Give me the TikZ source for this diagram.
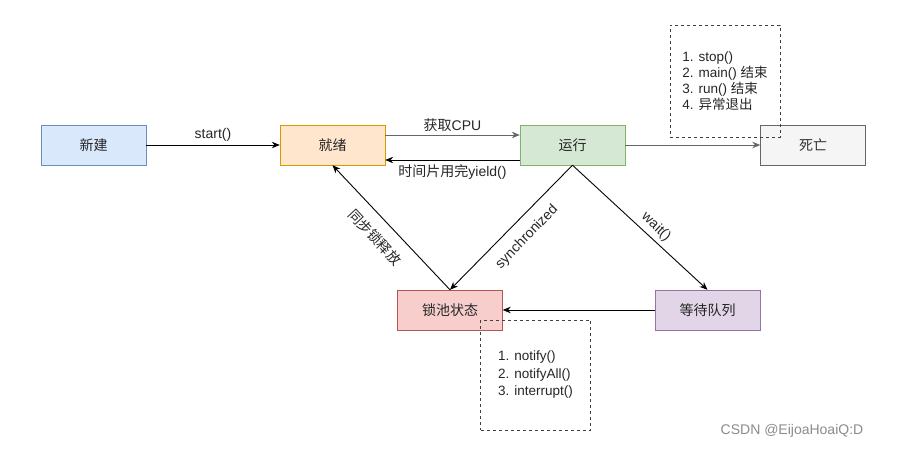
\documentclass[tikz,border=0pt]{standalone}
\usepackage{fontspec}
\setmainfont{Liberation Sans}
\newfontfamily\cjk{Noto Sans CJK SC}
\usetikzlibrary{arrows.meta}

\definecolor{newfill}{HTML}{DAE8FC}
\definecolor{newdraw}{HTML}{6C8EBF}
\definecolor{readyfill}{HTML}{FFE6CC}
\definecolor{readydraw}{HTML}{D79B00}
\definecolor{runfill}{HTML}{D5E8D4}
\definecolor{rundraw}{HTML}{82B366}
\definecolor{deadfill}{HTML}{F5F5F5}
\definecolor{deaddraw}{HTML}{666666}
\definecolor{lockfill}{HTML}{F8CECC}
\definecolor{lockdraw}{HTML}{B85450}
\definecolor{waitfill}{HTML}{E1D5E7}
\definecolor{waitdraw}{HTML}{9673A6}

\tikzset{
  state/.style={draw, minimum width=105pt, minimum height=40pt, inner sep=0pt,
    text=black!85, font=\fontsize{14}{16}\selectfont\cjk},
  note/.style={draw=black!75, dash pattern=on 3pt off 3pt, minimum width=110pt,
    align=left, text=black!85},
  lbl/.style={font=\fontsize{14}{16}\selectfont, text=black!85, inner sep=2pt},
  link/.style={->, line width=0.9pt},
}

\begin{document}
\begin{tikzpicture}[x=1pt, y=-1pt, >={Stealth[length=8pt, width=6.5pt]}]
  \useasboundingbox[fill=white] (0,0) rectangle (900,450);

  % states
  \node[state, fill=newfill, draw=newdraw] (xinjian) at (93.5,145) {新建};
  \node[state, fill=readyfill, draw=readydraw] (jiuxu) at (332.5,145) {就绪};
  \node[state, fill=runfill, draw=rundraw] (yunxing) at (572.5,145) {运行};
  \node[state, fill=deadfill, draw=deaddraw, text=black!80] (siwang) at (813,145) {死亡};
  \node[state, fill=lockfill, draw=lockdraw] (suochi) at (450,310) {锁池状态};
  \node[state, fill=waitfill, draw=waitdraw] (dengdai) at (707.5,310) {等待队列};

  % transitions
  \draw[link] (xinjian) -- node[lbl, above=1pt] {start()} (jiuxu);
  \draw[link, black!60] ([yshift=10pt]jiuxu.east) -- node[lbl, above=1pt] {{\cjk 获取}CPU} ([yshift=10pt]yunxing.west);
  \draw[link] ([yshift=-15pt]yunxing.west) -- node[lbl, below=2pt] {{\cjk 时间片用完}yield()} ([yshift=-15pt]jiuxu.east);
  \draw[link, black!60] (yunxing) -- (siwang);
  \draw[link] (yunxing.south) -- (suochi.north);
  \draw[link] (suochi.north) -- (jiuxu.south);
  \draw[link] (yunxing.south) -- (dengdai.north);
  \draw[link] (dengdai) -- (suochi);

  % sloped labels
  \node[lbl, rotate=45.7] (lsync) at (527,237) {synchronized};
  \node[lbl, rotate=-47] (lrelease) at (375,237) {\cjk 同步锁释放};
  \node[lbl, rotate=-43] (lwait) at (656,227) {wait()};

  % notes
  \node[note, minimum height=112pt, font=\fontsize{13.5}{16}\selectfont] (stopnote) at (725,81)
    {1. stop()\\2. main() {\cjk 结束}\\3. run() {\cjk 结束}\\4. {\cjk 异常退出}};
  \node[note, minimum height=110pt, font=\fontsize{13.5}{17.5}\selectfont] (notifynote) at (535.5,375)
    {1. notify()\\2. notifyAll()\\3. interrupt()};

  \node[text=black!45, font=\fontsize{14}{16}\selectfont] (mark) at (792,431) {CSDN @EijoaHoaiQ:D};
\end{tikzpicture}
\end{document}
